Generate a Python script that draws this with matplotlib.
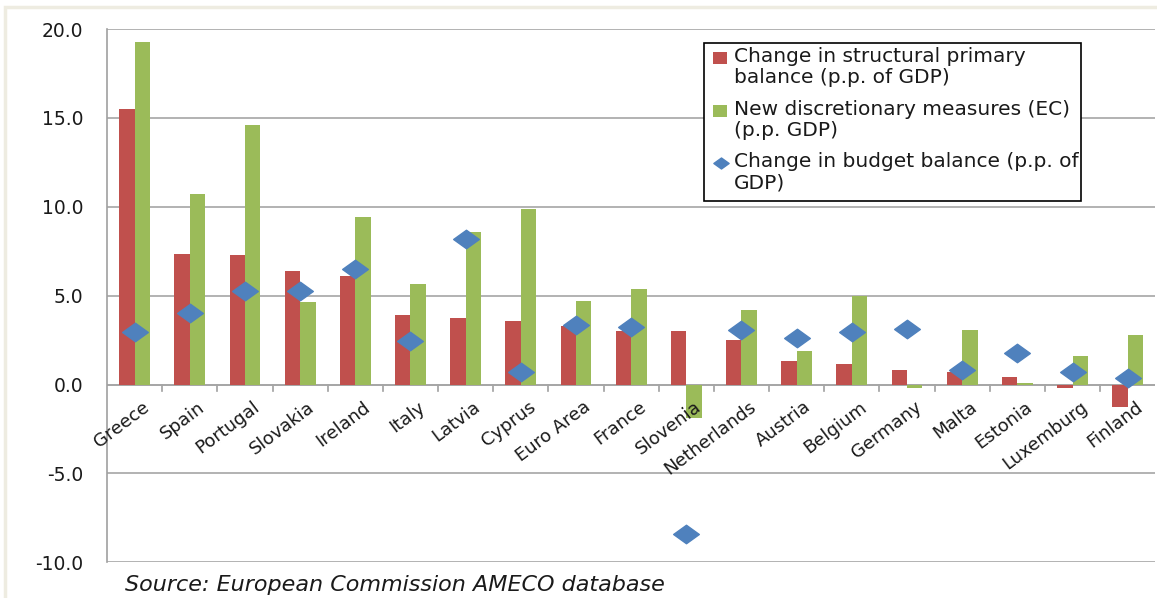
import matplotlib.pyplot as plt
import numpy as np
from matplotlib.path import Path
from matplotlib.patches import Rectangle
from matplotlib.lines import Line2D

countries = ["Greece", "Spain", "Portugal", "Slovakia", "Ireland", "Italy", "Latvia",
             "Cyprus", "Euro Area", "France", "Slovenia", "Netherlands", "Austria",
             "Belgium", "Germany", "Malta", "Estonia", "Luxemburg", "Finland"]
structural = [15.48, 7.37, 7.28, 6.36, 6.08, 3.90, 3.75, 3.60, 3.28, 3.02, 3.02,
              2.50, 1.31, 1.13, 0.84, 0.71, 0.45, -0.21, -1.28]
discretionary = [19.25, 10.71, 14.6, 4.67, 9.42, 5.68, 8.56, 9.85, 4.71, 5.36, -1.86,
                 4.18, 1.91, 4.99, -0.21, 3.06, 0.06, 1.61, 2.78]
budget = [2.96, 4.03, 5.25, 5.25, 6.51, 2.44, 8.2, 0.71, 3.34, 3.21, -8.39,
          3.08, 2.59, 2.96, 3.13, 0.84, 1.76, 0.71, 0.36]
legend_labels = ["Change in structural primary\nbalance (p.p. of GDP)",
                 "New discretionary measures (EC)\n(p.p. GDP)",
                 "Change in budget balance (p.p. of\nGDP)"]

red = "#C0504D"
green = "#9BBB59"
blue = "#4F81BD"
plt.rcParams["font.family"] = ["DejaVu Sans"]

W, H = 1157, 598
fig = plt.figure(figsize=(W / 100, H / 100), dpi=100)
ax = fig.add_axes([0.0925, 0.0597, 0.906, 0.8918])

x = np.arange(len(countries))
w = 0.28
ax.bar(x - w / 2, structural, w, color=red, zorder=2)
ax.bar(x + w / 2, discretionary, w, color=green, zorder=2)

diamond = Path([(-1, 0), (0, 0.72), (1, 0), (0, -0.72), (-1, 0)],
               [Path.MOVETO, Path.LINETO, Path.LINETO, Path.LINETO, Path.CLOSEPOLY])
ax.plot(x, budget, linestyle="none", marker=diamond, markersize=18.5, color=blue, zorder=3)

ax.set_xlim(-0.5, len(countries) - 0.5)
ax.set_ylim(-10, 20)
ticks = np.arange(-10, 21, 5)
ax.set_yticks(ticks)
ax.set_yticklabels([f"{v:.1f}" for v in ticks], fontsize=13.5, color="#1A1A1A")
ax.yaxis.grid(True, color="#A6A6A6", linewidth=1.2, zorder=0)
ax.tick_params(axis="y", length=0, pad=17)

# category axis sits at zero, ticks between categories
ax.set_xticks([])
ax.axhline(0, color="#A0A0A0", linewidth=1.2, zorder=1)
for b in np.arange(0.5, len(countries) - 0.5, 1):
    ax.plot([b, b], [0, -0.35], color="#A0A0A0", linewidth=1.2, zorder=1, clip_on=False)
for i, name in enumerate(countries):
    ax.text(i + 0.13, -0.75, name, rotation=37, ha="right", va="top",
            rotation_mode="anchor", fontsize=13, color="#1A1A1A")

for s in ["top", "right", "bottom"]:
    ax.spines[s].set_visible(False)
ax.spines["left"].set_color("#A0A0A0")
ax.spines["left"].set_linewidth(1.2)

# legend box drawn by hand so each key lines up with the first text line
px = lambda xp, yp: (xp / W, 1 - yp / H)
x0, y0 = px(704, 201)
x1, y1 = px(1081, 43)
fig.patches.append(Rectangle((x0, y0), x1 - x0, y1 - y0, transform=fig.transFigure,
                             facecolor="white", edgecolor="black", linewidth=1.2, zorder=5))
key_y = [58, 111, 163]
for k, (ky, lab) in enumerate(zip(key_y, legend_labels)):
    if k < 2:
        kx, kyy = px(713, ky + 6)
        kw, kh = 14 / W, 12 / H
        fig.patches.append(Rectangle((kx, kyy), kw, kh, transform=fig.transFigure,
                                     facecolor=[red, green][k], edgecolor="none", zorder=6))
    else:
        cx, cy = px(720.5, ky)
        fig.lines.append(Line2D([cx], [cy], marker=diamond, markersize=11, color=blue,
                                linestyle="none", transform=fig.transFigure, zorder=6))
    tx, ty = px(734, ky - 11)
    fig.text(tx, ty, lab, fontsize=14.5, va="top", ha="left", color="#1A1A1A",
             linespacing=1.15, zorder=7)

fig.text(125 / W, 7 / H, "Source: European Commission AMECO database", fontsize=16,
         style="italic", color="#1A1A1A")

fig.patches.append(Rectangle((5 / W, -0.1), 1.2, (H - 7) / H + 0.1,
                             transform=fig.transFigure, fill=False,
                             edgecolor="#EEECE1", linewidth=2.5))

fig.savefig("out.png", dpi=100)
